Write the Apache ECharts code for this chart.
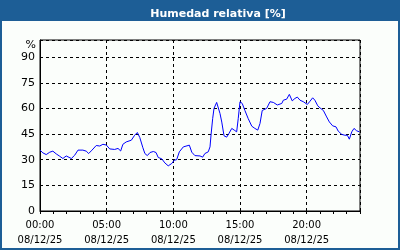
<!DOCTYPE html>
<html><head><meta charset="utf-8">
<script src="https://cdn.jsdelivr.net/npm/echarts@6/dist/echarts.min.js"></script>
<style>html,body{margin:0;padding:0;background:#fbfefb}#c{width:400px;height:250px}</style>
</head><body><div id="c"></div>
<script>
var titleText = 'Humedad relativa [%]';
var dateLabel = '08/12/25';
var yTicks = [0, 15, 30, 45, 60, 75, 90];
var xTickHours = [0, 5, 10, 15, 20];
var times = ['00:00','00:13','00:28','00:44','00:58','01:13','01:29','01:43','01:58','02:06','02:21','02:36','02:51','03:13','03:28','03:39','03:54','04:13','04:29','04:43','04:58','05:14','05:36','05:51','06:03','06:13','06:28','06:51','07:06','07:18','07:29','07:43','07:52','08:03','08:15','08:30','08:42','08:52','09:08','09:22','09:37','09:53','10:04','10:15','10:27','10:45','11:12','11:23','11:37','12:00','12:12','12:22','12:37','12:45','12:50','12:57','13:03','13:15','13:22','13:30','13:38','13:48','14:00','14:10','14:23','14:34','14:45','14:52','15:00','15:10','15:22','15:37','15:53','16:07','16:20','16:30','16:40','16:49','17:00','17:15','17:30','17:48','17:57','18:08','18:15','18:30','18:42','18:55','19:07','19:18','19:30','19:45','20:03','20:15','20:27','20:37','20:50','21:00','21:15','21:30','21:42','21:57','22:12','22:22','22:38','22:52','23:03','23:12','23:23','23:33','23:45','23:57'];
var humidity = [35.6,34,33,34.4,35,33.4,32,30.7,32.2,31.5,30.7,32.6,35.6,35.6,35,33.6,35.6,38.3,38,39,38.6,36.3,36,36.6,35.1,39,40.4,41.4,44.3,45.9,43,37,33.6,32.4,34.2,34.8,34.2,31.3,30.5,28.1,26.4,27.8,29.7,30,34.6,37.5,38.5,34.4,32.4,32.2,31.5,33.6,34.6,37.5,45,54,60,63.5,62.9,57,52,44,43.2,45.3,48.3,47.3,46.3,54,63.9,62.9,58.8,54,49.6,48.3,47.3,51.2,58.8,58,60,63.9,63.5,62,61,62.9,64.8,65.4,68.2,64.4,65.8,66.6,64.8,63.9,62.3,64.2,66.2,64.8,61.5,60.3,58.8,55,52.1,49.8,49.2,46.7,44.8,44.3,44.3,42,46.3,48.3,46.9,46.3];

function toHours(t){var p=t.split(':');return +p[0]+ (+p[1])/60;}
var seriesData = times.map(function(t,i){return [toHours(t), humidity[i]];});

var FONT = 'DejaVu Sans';
var chart = echarts.init(document.getElementById('c'), null, {renderer:'canvas'});
chart.setOption({
  animation:false,
  backgroundColor:'#fbfefb',
  title:{text:titleText, left:213, top:4, textAlign:'center',
    textStyle:{color:'#ffffff', fontWeight:'bold', fontSize:11, fontFamily:FONT}},
  graphic:[
    {type:'rect', z:-10, shape:{x:0,y:0,width:400,height:21}, style:{fill:'#1d5e96'}},
    {type:'rect', z:100, shape:{x:1,y:0,width:398,height:249}, style:{fill:null, stroke:'#1d5e96', lineWidth:2}},
    {type:'text', x:36, y:45, style:{text:'%', align:'right', verticalAlign:'middle', font:'11px "DejaVu Sans"', fill:'#000'}}
  ],
  grid:{left:40, right:40, top:40, bottom:39, show:true, borderColor:'#000', borderWidth:1, backgroundColor:'transparent'},
  xAxis:[
    {type:'value', min:0, max:24, interval:5,
      axisLine:{show:true, lineStyle:{color:'#000', width:1}},
      axisTick:{show:false},
      splitLine:{show:true, lineStyle:{color:'#000', type:[3,3], width:1}},
      axisLabel:{color:'#000', fontFamily:FONT, fontSize:10, lineHeight:15, margin:7, showMaxLabel:false,
        formatter:function(v){ if(xTickHours.indexOf(v)<0) return ''; return (v<10?'0':'')+v+':00\n'+dateLabel; }}},
    {type:'value', min:0, max:24, interval:1, position:'bottom',
      axisLine:{show:false}, splitLine:{show:false}, axisLabel:{show:false},
      axisTick:{show:true, length:3, lineStyle:{color:'#000'}}}
  ],
  yAxis:{type:'value', min:0, max:100, interval:15,
    axisLine:{show:true, lineStyle:{color:'#000'}},
    axisTick:{show:false},
    splitLine:{show:true, lineStyle:{color:'#000', type:[3,3], width:1}},
    axisLabel:{color:'#000', fontFamily:FONT, fontSize:11, margin:5, showMaxLabel:false,
      formatter:function(v){ return yTicks.indexOf(v)<0 ? '' : String(v); }}},
  series:[{type:'line', xAxisIndex:0, data:seriesData, showSymbol:false, symbol:'none',
    lineStyle:{color:'#0000ff', width:1}, z:5}]
});
</script></body></html>
